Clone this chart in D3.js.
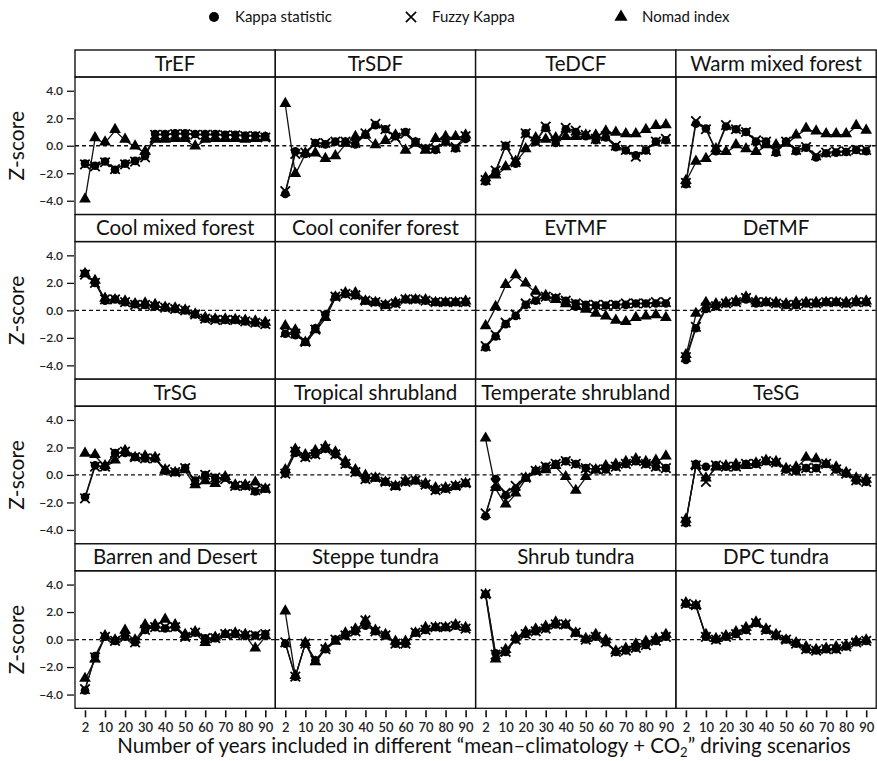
<!DOCTYPE html>
<html><head><meta charset="utf-8">
<script src="https://cdn.jsdelivr.net/npm/d3@7/dist/d3.min.js"></script>
<style>body{margin:0;background:#fff;} svg{display:block;}</style>
</head><body>
<svg id="chart" width="877" height="761"></svg>
<script>
const categories = ["2","5","10","15","20","25","30","35","40","45","50","55","60","65","70","75","80","85","90"];
const tickLabels = ["2","10","20","30","40","50","60","70","80","90"];
const yTicks = [4,2,0,-2,-4];
const panelNames = ["TrEF","TrSDF","TeDCF","Warm mixed forest","Cool mixed forest","Cool conifer forest","EvTMF","DeTMF","TrSG","Tropical shrubland","Temperate shrubland","TeSG","Barren and Desert","Steppe tundra","Shrub tundra","DPC tundra"];
const seriesNames = ["Kappa statistic","Fuzzy Kappa","Nomad index"];

const kappa = [
 [-1.3,-1.45,-1.15,-1.75,-1.3,-1.1,-0.75,0.85,0.85,0.9,0.9,0.85,0.85,0.85,0.8,0.8,0.75,0.75,0.7],
 [-3.5,-0.4,-0.6,0.2,0.1,0.3,0.3,0.1,0.8,1.5,1.2,0.7,1.0,0.3,-0.2,-0.3,0.3,-0.2,0.5],
 [-2.6,-1.9,0.0,-1.3,0.9,0.3,1.3,0.2,1.2,1.0,0.7,0.4,0.6,-0.1,-0.35,-0.7,-0.35,0.3,0.4],
 [-2.8,1.6,1.25,-0.4,1.4,1.2,1.0,0.3,0.3,-0.5,0.3,-0.4,-0.15,-0.85,-0.55,-0.5,-0.45,-0.3,-0.4],
 [2.7,2.0,0.7,0.8,0.6,0.45,0.4,0.3,0.2,0.1,0.0,-0.3,-0.6,-0.65,-0.7,-0.7,-0.8,-0.9,-1.0],
 [-1.7,-1.8,-2.3,-1.3,-0.3,1.0,1.2,1.1,0.7,0.6,0.4,0.5,0.8,0.8,0.7,0.6,0.6,0.6,0.6],
 [-2.7,-1.9,-1.0,-0.4,0.4,0.7,1.0,0.9,0.7,0.5,0.4,0.35,0.35,0.4,0.4,0.5,0.5,0.5,0.5],
 [-3.6,-1.3,0.1,0.3,0.5,0.6,0.8,0.5,0.6,0.5,0.4,0.4,0.5,0.5,0.6,0.6,0.5,0.6,0.6],
 [-1.6,0.7,0.6,1.6,1.6,1.3,1.2,1.2,0.3,0.2,0.5,-0.4,0.0,-0.2,-0.2,-0.8,-0.8,-1.2,-1.0],
 [0.1,1.6,1.3,1.5,1.9,1.5,0.8,0.2,-0.3,-0.2,-0.5,-0.8,-0.5,-0.4,-0.7,-1.1,-1.0,-0.8,-0.6],
 [-3.0,-0.3,-1.5,-1.0,-0.2,0.3,0.6,0.8,1.0,0.8,0.5,0.4,0.4,0.6,0.8,1.0,0.8,0.6,0.5],
 [-3.5,0.8,0.6,0.7,0.6,0.6,0.8,0.8,1.0,0.9,0.4,0.3,0.5,0.5,0.8,0.4,0.1,-0.4,-0.5],
 [-3.7,-1.2,0.2,-0.1,0.2,-0.2,0.7,0.9,0.8,0.9,0.2,0.5,0.1,0.1,0.4,0.4,0.3,0.3,0.4],
 [-0.3,-2.7,-0.3,-1.5,-0.7,0.0,0.3,0.6,1.0,0.6,0.3,-0.3,-0.3,0.5,0.7,0.9,0.9,1.0,0.8],
 [3.3,-1.0,-0.9,0.0,0.4,0.6,0.8,1.1,1.1,0.5,0.0,0.2,-0.2,-0.9,-0.8,-0.6,-0.4,-0.1,0.2],
 [2.6,2.5,0.2,0.0,0.2,0.4,0.7,1.2,0.7,0.3,0.0,-0.3,-0.7,-0.8,-0.7,-0.7,-0.5,-0.2,-0.1]
];
const fuzzy = [
 [-1.35,-1.5,-1.2,-1.7,-1.35,-1.15,-0.85,0.8,0.8,0.85,0.85,0.8,0.8,0.8,0.75,0.75,0.7,0.7,0.6],
 [-3.3,-0.6,-0.5,0.2,0.2,0.3,0.3,0.2,0.9,1.6,1.2,0.6,0.9,0.2,-0.2,-0.2,0.3,-0.1,0.7],
 [-2.5,-1.8,0.0,-1.2,0.9,0.3,1.4,0.3,1.3,1.1,0.8,0.5,0.7,0.0,-0.3,-0.8,-0.3,0.3,0.5],
 [-2.7,1.8,1.2,-0.3,1.5,1.2,1.0,0.4,0.3,-0.4,0.3,-0.3,-0.1,-0.7,-0.5,-0.4,-0.4,-0.3,-0.3],
 [2.6,2.0,0.8,0.8,0.6,0.4,0.4,0.3,0.2,0.1,0.0,-0.3,-0.6,-0.7,-0.7,-0.7,-0.8,-0.9,-1.0],
 [-1.6,-1.7,-2.3,-1.4,-0.4,1.0,1.2,1.1,0.7,0.6,0.4,0.5,0.8,0.8,0.7,0.6,0.6,0.6,0.6],
 [-2.6,-1.8,-0.9,-0.3,0.5,0.8,1.0,0.9,0.7,0.5,0.4,0.4,0.4,0.4,0.5,0.5,0.5,0.6,0.6],
 [-3.4,-1.2,0.2,0.3,0.5,0.6,0.9,0.6,0.6,0.5,0.4,0.4,0.5,0.5,0.6,0.6,0.5,0.6,0.6],
 [-1.7,0.6,0.6,1.6,1.7,1.3,1.2,1.2,0.4,0.2,0.5,-0.4,0.0,-0.2,-0.3,-0.8,-0.8,-1.1,-1.0],
 [0.1,1.7,1.3,1.5,1.9,1.5,0.8,0.2,-0.3,-0.2,-0.5,-0.8,-0.5,-0.4,-0.7,-1.1,-1.0,-0.8,-0.6],
 [-2.8,-0.6,-1.3,-0.8,-0.2,0.3,0.6,0.8,1.0,0.8,0.5,0.4,0.4,0.6,0.8,1.0,0.8,0.6,0.5],
 [-3.4,0.7,-0.5,0.7,0.6,0.6,0.8,0.8,1.0,0.9,0.4,0.3,0.5,0.5,0.8,0.4,0.1,-0.4,-0.5],
 [-3.6,-1.3,0.2,-0.1,0.2,-0.2,0.7,0.9,0.9,0.9,0.2,0.5,0.1,0.1,0.4,0.4,0.3,0.3,0.4],
 [-0.2,-2.7,-0.3,-1.5,-0.7,0.0,0.3,0.6,1.4,0.6,0.3,-0.3,-0.3,0.5,0.7,0.9,0.9,1.0,0.8],
 [3.3,-1.1,-0.9,0.0,0.4,0.6,0.8,1.1,1.1,0.5,0.0,0.2,-0.2,-0.9,-0.8,-0.6,-0.4,-0.1,0.2],
 [2.6,2.5,0.2,0.0,0.2,0.4,0.7,1.2,0.7,0.3,0.0,-0.3,-0.7,-0.8,-0.7,-0.7,-0.5,-0.2,-0.1]
];
const nomad = [
 [-3.95,0.5,0.2,1.1,0.4,-0.1,-0.5,0.4,0.4,0.45,0.45,-0.1,0.4,0.45,0.45,0.45,0.4,0.45,0.5],
 [3.0,-2.1,-0.6,-0.6,-1.0,-0.8,0.1,0.6,0.7,0.0,0.3,0.7,-0.4,0.1,-0.4,0.45,0.6,0.6,0.7],
 [-2.4,-2.2,-1.6,-1.2,-0.3,0.5,0.4,0.5,0.6,0.6,0.7,0.7,1.0,0.9,0.8,0.8,1.1,1.4,1.45],
 [-2.6,-1.2,-1.0,-0.3,-0.5,0.0,-0.3,-0.5,0.0,0.0,0.1,0.7,1.2,1.0,0.8,0.8,0.8,1.4,1.05],
 [2.6,2.1,0.8,0.7,0.6,0.4,0.45,0.35,0.15,0.1,-0.05,-0.35,-0.6,-0.7,-0.7,-0.75,-0.8,-0.85,-0.95],
 [-1.2,-1.5,-2.4,-1.5,-0.6,0.9,1.2,1.2,0.6,0.5,0.3,0.5,0.7,0.7,0.7,0.5,0.5,0.5,0.6],
 [-1.2,0.2,1.8,2.5,1.9,1.3,1.0,0.7,0.4,0.2,0.0,-0.3,-0.5,-0.8,-0.9,-0.6,-0.5,-0.4,-0.6],
 [-3.3,-0.3,0.5,0.4,0.5,0.6,0.9,0.6,0.5,0.5,0.4,0.5,0.5,0.5,0.5,0.5,0.5,0.6,0.6],
 [1.5,1.4,0.6,1.0,1.7,1.2,1.3,1.2,0.3,0.1,0.3,-0.8,-0.5,-0.7,-0.2,-0.8,-0.8,-0.6,-1.1],
 [0.3,1.8,1.4,1.7,2.0,1.6,0.9,0.3,-0.1,-0.3,-0.6,-0.9,-0.5,-0.5,-0.7,-1.0,-1.0,-0.9,-0.7],
 [2.6,-1.0,-2.2,-1.4,-0.3,0.2,0.3,0.6,-0.2,-1.2,-0.2,0.3,0.6,0.7,0.9,1.1,0.9,1.0,1.3],
 [-3.3,0.6,-0.3,0.5,0.6,0.7,0.6,0.8,1.0,0.9,0.4,0.5,1.2,1.1,0.7,0.5,0.1,-0.3,-0.4],
 [-2.9,-1.5,0.2,-0.1,0.6,-0.1,1.0,1.0,1.4,1.0,0.3,0.5,-0.3,0.1,0.3,0.4,0.3,-0.7,0.2],
 [2.0,-2.7,-0.3,-1.7,-0.7,-0.2,0.4,0.7,1.3,0.6,0.3,-0.2,-0.2,0.4,0.8,0.8,0.8,1.0,0.8],
 [3.2,-1.5,-0.8,0.1,0.5,0.7,0.9,1.2,1.0,0.4,0.0,0.3,-0.1,-0.9,-0.7,-0.4,-0.2,0.0,0.3],
 [2.6,2.4,0.3,0.0,0.2,0.5,0.8,1.2,0.7,0.3,-0.1,-0.3,-0.6,-0.8,-0.7,-0.6,-0.5,-0.2,-0.1]
];

const svg = d3.select("#chart");
const FONT = "Lato, 'Open Sans', sans-serif";
const left0 = 75, colW = 200.3, top0 = 50, rowH = 164.6, titleH = 27, plotH = 137.5;

// Legend
const leg = svg.append("g").attr("font-family", FONT).attr("font-size", 15);
const legItems = [{x:214, t:"Kappa statistic", s:"c"},{x:411, t:"Fuzzy Kappa", s:"x"},{x:621, t:"Nomad index", s:"t"}];
legItems.forEach(d => {
  const g = leg.append("g").attr("transform", `translate(${d.x},17)`);
  if (d.s === "c") g.append("circle").attr("r", 5).attr("fill", "#000");
  if (d.s === "x") g.append("path").attr("d", d3.symbol(d3.symbolX, 70)()).attr("stroke", "#000").attr("stroke-width", 1.6).attr("fill", "none");
  if (d.s === "t") g.append("path").attr("d", d3.symbol(d3.symbolTriangle, 75)()).attr("fill", "#000");
  leg.append("text").attr("x", d.x + 21).attr("y", 22).text(d.t).attr("fill", "#111");
});

const line = (xs, ys) => d3.line().x((d, i) => xs(categories[i])).y(d => ys(d));

panelNames.forEach((name, p) => {
  const c = p % 4, r = Math.floor(p / 4);
  const x0 = left0 + c * colW, y0 = top0 + r * rowH;
  const pt = y0 + titleH, pb = pt + plotH;
  const xs = d3.scalePoint().domain(categories).range([x0 + 10, x0 + colW - 10]);
  const ys = d3.scaleLinear().domain([-5, 5]).range([pb, pt]);
  const g = svg.append("g");

  // title box
  g.append("rect").attr("x", x0).attr("y", y0).attr("width", colW).attr("height", titleH)
    .attr("fill", "#fff").attr("stroke", "#111").attr("stroke-width", 1.4);
  g.append("text").attr("x", x0 + colW / 2).attr("y", y0 + 20.5).attr("text-anchor", "middle")
    .attr("font-family", FONT).attr("font-size", 20.5).attr("fill", "#111").text(name);
  // plot box
  g.append("rect").attr("x", x0).attr("y", pt).attr("width", colW).attr("height", plotH)
    .attr("fill", "none").attr("stroke", "#111").attr("stroke-width", 1.3);
  // zero line
  g.append("line").attr("x1", x0).attr("x2", x0 + colW).attr("y1", ys(0)).attr("y2", ys(0))
    .attr("stroke", "#111").attr("stroke-width", 1.3).attr("stroke-dasharray", "4,3");

  // y axis on first column
  if (c === 0) {
    const ax = d3.axisLeft(ys).tickValues(yTicks).tickSize(7).tickPadding(4)
      .tickFormat(d => (d < 0 ? "\u2212" : "") + Math.abs(d).toFixed(1));
    const ag = g.append("g").attr("transform", `translate(${x0 - 1},0)`).call(ax);
    ag.select(".domain").remove();
    ag.selectAll("line").attr("stroke", "#111").attr("stroke-width", 1.3);
    ag.selectAll("text").attr("font-family", FONT).attr("font-size", 12).attr("font-weight", 600).attr("fill", "#222");
    g.append("text").attr("transform", `translate(24,${(pt + pb) / 2}) rotate(-90)`)
      .attr("text-anchor", "middle").attr("font-family", FONT).attr("font-size", 21).attr("fill", "#111").text("Z-score");
  }
  // x axis on bottom row
  if (r === 3) {
    const ax = d3.axisBottom(xs).tickValues(tickLabels).tickSize(7).tickPadding(5);
    const ag = g.append("g").attr("transform", `translate(0,${pb + 2})`).call(ax);
    ag.select(".domain").remove();
    ag.selectAll("line").attr("stroke", "#111").attr("stroke-width", 1.6);
    ag.selectAll("text").attr("font-family", FONT).attr("font-size", 13).attr("font-weight", 600).attr("fill", "#222");
  }

  const series = [nomad[p], fuzzy[p], kappa[p]];
  series.forEach(vals => {
    g.append("path").datum(vals).attr("d", line(xs, ys)).attr("fill", "none")
      .attr("stroke", "#111").attr("stroke-width", 1.3);
  });
  g.selectAll(".tri").data(nomad[p]).join("path")
    .attr("transform", (d, i) => `translate(${xs(categories[i])},${ys(d) - 1})`)
    .attr("d", d3.symbol(d3.symbolTriangle, 60)()).attr("fill", "#000");
  g.selectAll(".cir").data(kappa[p]).join("circle")
    .attr("cx", (d, i) => xs(categories[i])).attr("cy", d => ys(d)).attr("r", 4.3).attr("fill", "#000");
  g.selectAll(".crs").data(fuzzy[p]).join("path")
    .attr("transform", (d, i) => `translate(${xs(categories[i])},${ys(d)})`)
    .attr("d", d3.symbol(d3.symbolX, 60)()).attr("stroke", "#000").attr("stroke-width", 1.8).attr("fill", "none");
});

// x-axis title
const xt = svg.append("text").attr("x", 484).attr("y", 753).attr("text-anchor", "middle")
  .attr("font-family", FONT).attr("font-size", 20.5).attr("fill", "#111");
xt.append("tspan").text("Number of years included in different \u201cmean\u2013climatology + CO");
xt.append("tspan").attr("font-size", 13).attr("dy", 4).text("2");
xt.append("tspan").attr("dy", -4).text("\u201d driving scenarios");
</script>
</body></html>
